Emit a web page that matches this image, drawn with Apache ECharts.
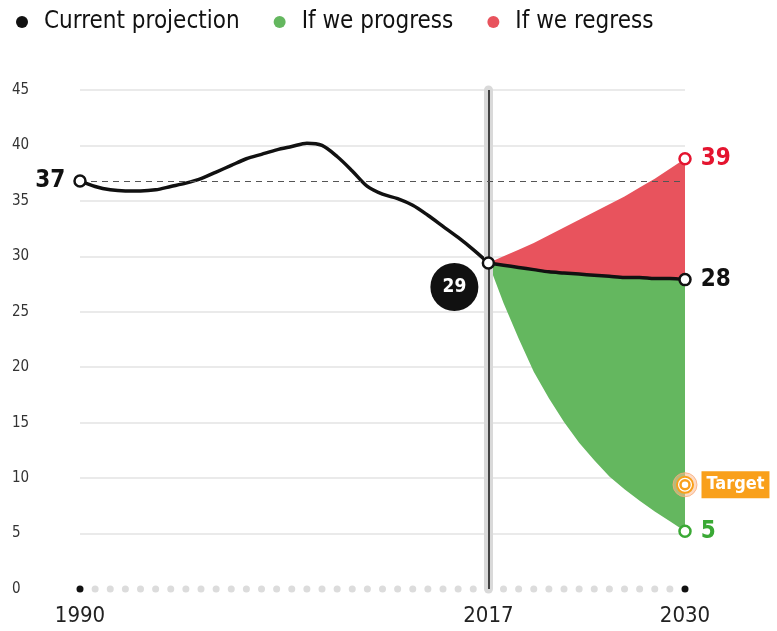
<!DOCTYPE html>
<html>
<head>
<meta charset="utf-8">
<script src="https://cdn.jsdelivr.net/npm/echarts@6/dist/echarts.min.js"></script>
<style>
html,body{margin:0;padding:0;background:#fff}
#main{width:777px;height:631px}
</style>
</head>
<body>
<div id="main"></div>
<script>
var FONT = '"Liberation Sans Narrow","DejaVu Sans Condensed",sans-serif';

// x axis years (one dot per year) and the years that get a label
var years = [1990,1991,1992,1993,1994,1995,1996,1997,1998,1999,2000,2001,2002,2003,2004,2005,2006,2007,2008,2009,
  2010,2011,2012,2013,2014,2015,2016,2017,2018,2019,2020,2021,2022,2023,2024,2025,2026,2027,2028,2029,2030];
var keyYears = [1990, 2017, 2030];

// history 1990-2017
var histYears = [1990,1991,1992,1993,1994,1995,1996,1997,1998,1999,2000,2001,2002,2003,2004,2005,2006,2007,2008,2009,
  2010,2011,2012,2013,2014,2015,2016,2017];
var histValues = [36.8,36.3,36.0,35.9,35.9,36.0,36.3,36.6,37.0,37.6,38.2,38.8,39.2,39.6,39.9,40.2,40.0,39.0,37.7,36.3,
  35.6,35.2,34.6,33.7,32.7,31.7,30.6,29.4];

// projections 2017-2030
var projYears = [2017,2018,2019,2020,2021,2022,2023,2024,2025,2026,2027,2028,2029,2030];
var currentValues  = [29.4,29.2,29.0,28.8,28.6,28.5,28.4,28.3,28.2,28.1,28.1,28.0,28.0,27.9];
var progressValues = [29.4,25.8,22.6,19.6,17.2,15.05,13.2,11.6,10.15,9.0,7.95,7.0,6.1,5.2];
var regressValues  = [29.4,30.0,30.6,31.2,31.9,32.6,33.3,34.0,34.7,35.4,36.2,37.0,37.9,38.8];

var targetYear = 2030;
var targetValue = 9.4;

var BLACK = '#111';
var GREEN = '#64b75f';
var RED = '#e8535d';
var ORANGE = '#f9a01b';

function pairs(xs, ys) {
  return xs.map(function (x, i) { return [x, ys[i]]; });
}
var last = projYears.length - 1;

var chart = echarts.init(document.getElementById('main'), null, {renderer: 'canvas'});

var gridColors = ['rgba(0,0,0,0)'];
for (var i = 0; i < 9; i++) gridColors.push('#e3e3e3');

var valueLabel = function (p) { return Math.round(p.value[1]); };

// band between two projection lines, drawn as one filled shape
function bandItem(color, lower, upper) {
  return function (params, api) {
    var pts = [];
    for (var k = 0; k < projYears.length; k++) pts.push(api.coord([projYears[k], upper[k]]));
    for (var k = projYears.length - 1; k >= 0; k--) pts.push(api.coord([projYears[k], lower[k]]));
    return {type: 'polygon', shape: {points: pts}, style: {fill: color}, silent: true};
  };
}

chart.setOption({
  animation: false,
  textStyle: {fontFamily: FONT},
  legend: {
    left: 11,
    top: 5,
    icon: 'circle',
    itemWidth: 12,
    itemHeight: 12,
    itemGap: 34,
    data: ['Current projection', 'If we progress', 'If we regress'],
    textStyle: {fontSize: 24, color: '#111', fontFamily: FONT, padding: [0, 0, 0, 11]}
  },
  grid: {left: 80, right: 92, top: 90, bottom: 42},
  xAxis: {
    type: 'value',
    min: 1990,
    max: 2030,
    interval: 1,
    axisLine: {show: false},
    axisTick: {show: false},
    splitLine: {show: false},
    axisLabel: {
      margin: 16,
      fontSize: 22,
      color: '#222',
      fontFamily: FONT,
      formatter: function (v) { return keyYears.indexOf(v) >= 0 ? String(v) : ''; }
    }
  },
  yAxis: {
    type: 'value',
    min: 0,
    max: 45,
    interval: 5,
    axisLine: {show: false},
    axisTick: {show: false},
    splitLine: {lineStyle: {color: gridColors, width: 1.5}},
    axisLabel: {margin: 68, align: 'left', fontSize: 15, color: '#333', fontFamily: FONT}
  },
  series: [
    {
      name: 'If we progress',
      type: 'custom',
      itemStyle: {color: GREEN},
      data: [0],
      renderItem: bandItem(GREEN, progressValues, currentValues),
      z: 1
    },
    {
      name: 'If we regress',
      type: 'custom',
      itemStyle: {color: RED},
      data: [0],
      renderItem: bandItem(RED, currentValues, regressValues),
      z: 1
    },
    {
      // 2017 marker band and the dashed reference line
      name: 'guides',
      type: 'line',
      data: [],
      z: 2,
      markLine: {
        silent: true,
        symbol: 'none',
        label: {show: false},
        data: [
          {xAxis: 2017, lineStyle: {color: '#d9d9d9', width: 9, type: 'solid', cap: 'round'}},
          {xAxis: 2017, lineStyle: {color: BLACK, width: 1.5, type: 'solid'}},
          [
            {coord: [1990, histValues[0]], lineStyle: {color: '#555', width: 1.2, type: [6, 5]}},
            {coord: [2030, histValues[0]]}
          ]
        ]
      }
    },
    {
      name: 'Current projection',
      type: 'line',
      data: pairs(histYears, histValues),
      smooth: 0.3,
      symbol: 'none',
      itemStyle: {color: BLACK},
      lineStyle: {color: BLACK, width: 3.5},
      z: 3
    },
    {
      name: 'Current projection',
      type: 'line',
      data: pairs(projYears, currentValues),
      smooth: 0.3,
      symbol: 'none',
      itemStyle: {color: BLACK},
      lineStyle: {color: BLACK, width: 3.5},
      z: 3
    },
    {
      // year dots along the x axis
      name: 'ticks',
      type: 'scatter',
      clip: false,
      silent: true,
      z: 4,
      symbolSize: 7,
      data: years.map(function (y) {
        var key = keyYears.indexOf(y) >= 0;
        return {value: [y, 0], itemStyle: {opacity: 1, color: key ? BLACK : '#dcdcdc'}};
      })
    },
    {
      // end points and value labels
      name: 'points',
      type: 'scatter',
      clip: false,
      silent: true,
      z: 5,
      symbolSize: 11,
      itemStyle: {color: '#fff', borderWidth: 2.5, opacity: 1},
      label: {fontFamily: FONT, fontWeight: 'bold', fontSize: 24, formatter: valueLabel},
      data: [
        {value: [histYears[0], histValues[0]], itemStyle: {borderColor: BLACK},
          label: {show: true, position: 'left', distance: 8, color: BLACK}},
        {value: [projYears[0], currentValues[0]], symbolSize: 48, symbolOffset: [-34, 24],
          itemStyle: {color: BLACK, borderWidth: 0},
          label: {show: true, position: 'inside', color: '#fff', fontSize: 19}},
        {value: [projYears[0], currentValues[0]], itemStyle: {borderColor: BLACK}},
        {value: [projYears[last], currentValues[last]], itemStyle: {borderColor: BLACK},
          label: {show: true, position: 'right', distance: 9, color: BLACK}},
        {value: [projYears[last], regressValues[last]], itemStyle: {borderColor: '#e4142f'},
          label: {show: true, position: 'right', distance: 9, color: '#e4142f'}},
        {value: [projYears[last], progressValues[last]], itemStyle: {borderColor: '#3aa935'},
          label: {show: true, position: 'right', distance: 9, color: '#3aa935'}}
      ]
    },
    {
      // target marker
      name: 'target',
      type: 'scatter',
      clip: false,
      silent: true,
      z: 6,
      itemStyle: {opacity: 1},
      data: [
        {value: [targetYear, targetValue], symbolSize: 24,
          itemStyle: {color: 'rgba(250,190,150,0.55)', borderColor: 'rgba(250,170,120,0.8)', borderWidth: 1},
          label: {show: true, position: 'right', distance: 4, formatter: 'Target', color: '#fff',
            backgroundColor: ORANGE, fontFamily: FONT, fontWeight: 'bold', fontSize: 18,
            padding: [5, 5, 4, 5]}},
        {value: [targetYear, targetValue], symbolSize: 16,
          itemStyle: {color: '#fff', borderColor: ORANGE, borderWidth: 2}},
        {value: [targetYear, targetValue], symbolSize: 9,
          itemStyle: {color: '#fff', borderColor: ORANGE, borderWidth: 2.5}}
      ]
    }
  ]
});
</script>
</body>
</html>
